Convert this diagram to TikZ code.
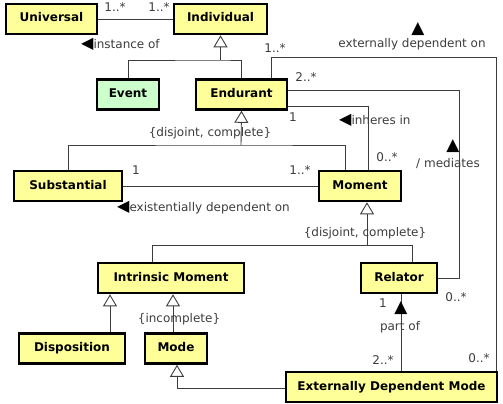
\documentclass[tikz,border=0pt]{standalone}
\usepackage{fontspec}
\setmainfont{DejaVu Sans}
\usetikzlibrary{arrows.meta}
\definecolor{umlyellow}{RGB}{255,255,153}
\definecolor{umlgreen}{RGB}{204,255,204}
\definecolor{umlline}{RGB}{60,60,60}
\newcommand{\lefttip}{{\fontsize{16}{16}\selectfont\color{black}◀}}
\begin{document}
\begin{tikzpicture}[x=1pt,y=-1pt,
    assoc/.style={draw=umlline,line width=0.9pt},
    gen/.style={assoc,-{Triangle[open,length=12pt,width=14pt]}},
    lbl/.style={text=umlline,font=\fontsize{12}{14}\selectfont,inner sep=0pt},
    dirmark/.style={font=\fontsize{17}{17}\selectfont,inner sep=0pt}]
    \tikzstyle{klass}=[draw=black,line width=2.6pt,fill=umlyellow,font=\fontsize{12}{14}\selectfont\bfseries,inner sep=0pt,text height=18pt,text depth=12pt]
    \useasboundingbox (0,0) rectangle (503,404);

    \node[klass,minimum width=91pt] (univ) at (51.5,19) {Universal};
    \node[klass,minimum width=93pt] (indiv) at (220.5,19) {Individual};
    \node[klass,minimum width=62pt,fill=umlgreen] (event) at (128,94.5) {Event};
    \node[klass,minimum width=91pt] (endur) at (241.5,94.5) {Endurant};
    \node[klass,minimum width=108pt] (subst) at (68,186) {Substantial};
    \node[klass,minimum width=82pt] (moment) at (360,186) {Moment};
    \node[klass,minimum width=146pt] (intrm) at (171,278) {Intrinsic Moment};
    \node[klass,minimum width=76pt] (relator) at (399,278) {Relator};
    \node[klass,minimum width=106pt] (dispo) at (72,348.5) {Disposition};
    \node[klass,minimum width=62pt] (mode) at (176,348.5) {Mode};
    \node[klass,minimum width=211pt] (edm) at (391.5,387) {Externally Dependent Mode};

    \coordinate (genA) at (220.5,60);
    \coordinate (genB) at (241,145);
    \coordinate (genBr) at (345,145);
    \coordinate (genCl) at (152,245);
    \coordinate (genC) at (367,245);
    \coordinate (genCr) at (412,245);
    \coordinate (genD) at (110,313);
    \coordinate (genE) at (173,313);
    \coordinate (genF) at (177,388);
    \coordinate (bendA) at (271,57);
    \coordinate (bendB) at (496,57);
    \coordinate (bendC) at (459,90);
    \coordinate (bendD) at (368,106);
    \coordinate (partx) at (401,330);

    \draw[assoc] (univ.east) -- (indiv.west);
    \node[lbl] (univm) at (115,7) {1..*};
    \node[lbl] (indivm) at (159,7) {1..*};
    \node[lbl,anchor=west] (instof) at (81,44) {\lefttip instance of};

    \draw[assoc] (event.north) |- (genA) -| (endur.north);
    \draw[gen] (genA) -- (indiv.south);

    \draw[assoc] (endur.north -| bendA) -- (bendA) -- (bendB) -- (edm.north -| bendB);
    \node[lbl] (extm1) at (275,48) {1..*};
    \node[lbl] (extm2) at (479,358) {0..*};
    \node[lbl] (extdep) at (412,44) {externally dependent on};
    \node[dirmark] (extdir) at (418,29) {▲};

    \draw[assoc] (endur.east |- bendC) -- (bendC) -- (bendC |- relator.east) -- (relator.east);
    \node[lbl] (medm1) at (306,77) {2..*};
    \node[lbl] (medm2) at (456,297) {0..*};
    \node[lbl] (med) at (448,163) {/ mediates};
    \node[dirmark] (meddir) at (453,146) {▲};

    \draw[assoc] (endur.east |- bendD) -- (bendD) -- (moment.north -| bendD);
    \node[lbl] (inhm1) at (293,117) {1};
    \node[lbl] (inhm2) at (387,157) {0..*};
    \node[lbl,anchor=west] (inh) at (339,120) {\lefttip inheres in};

    \draw[assoc] (subst.north) |- (genB) -- (genBr) -- (moment.north -| genBr);
    \draw[gen] (genB) -- (endur.south);
    \node[lbl] (djc1) at (210,133) {\{disjoint, complete\}};

    \draw[assoc] (subst.east) -- (moment.west);
    \node[lbl] (exm1) at (136,170) {1};
    \node[lbl] (exm2) at (300,170) {1..*};
    \node[lbl,anchor=west] (exdep) at (117,208) {\lefttip existentially dependent on};

    \draw[assoc] (intrm.north -| genCl) -- (genCl) -- (genCr) -- (relator.north -| genCr);
    \draw[gen] (genC) -- (moment.south -| genC);
    \node[lbl] (djc2) at (365,233) {\{disjoint, complete\}};

    \draw[gen] (dispo.north -| genD) -- (intrm.south -| genD);
    \draw[gen] (mode.north -| genE) -- (intrm.south -| genE);
    \node[lbl] (incom) at (179,319) {\{incomplete\}};

    \draw[gen] (edm.west |- genF) -| (mode.south -| genF);

    \draw[assoc] (edm.north -| partx) -- (relator.south -| partx);
    \node[dirmark] (partdir) at (401,308) {▲};
    \node[lbl] (partm1) at (383,303) {1};
    \node[lbl] (partof) at (400,327) {part of};
    \node[lbl] (partm2) at (383,360) {2..*};

  \end{tikzpicture}
\end{document}
